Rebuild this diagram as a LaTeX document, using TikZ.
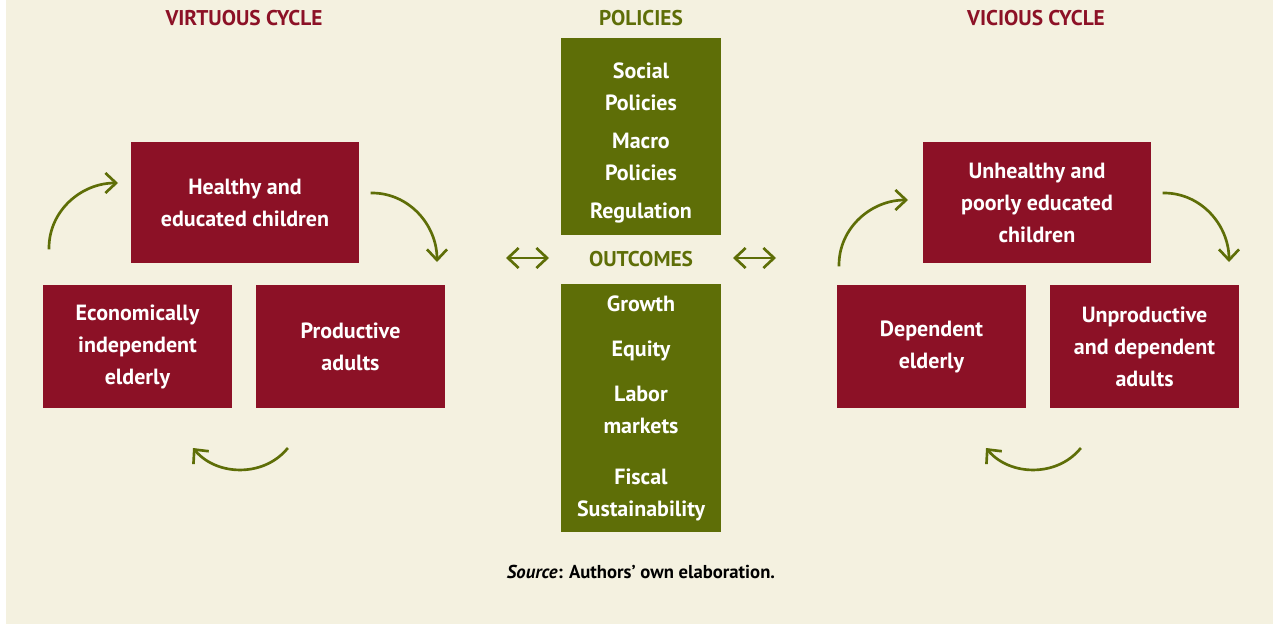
\documentclass[tikz,border=0pt]{standalone}
\usepackage{fontspec}
\setmainfont{PT Sans}
\usetikzlibrary{arrows.meta,positioning}
\definecolor{cyclered}{HTML}{8C1126}
\definecolor{policygreen}{HTML}{5E6E07}
\definecolor{paper}{HTML}{F4F1E0}

\begin{document}
\begin{tikzpicture}[x=0.75pt,y=0.75pt,line cap=rect]
  \tikzstyle{cyclebox}=[fill=cyclered,text=white,align=center,inner sep=0pt,font=\bfseries\fontsize{16.5}{24}\selectfont];
  \tikzstyle{policybox}=[fill=policygreen,inner sep=0pt,minimum width=120pt];
  \tikzstyle{policytext}=[text=white,align=center,inner sep=0pt,font=\bfseries\fontsize{16.5}{24}\selectfont];
  \tikzstyle{heading}=[font=\bfseries\fontsize{16}{18}\selectfont];
  \tikzstyle{cyclearrow}=[draw=policygreen,line width=2pt,-{Straight Barb[length=8pt,width=15pt]}];
  \tikzstyle{linkarrow}=[draw=policygreen,line width=2pt,{Straight Barb[length=8pt,width=15pt]}-{Straight Barb[length=8pt,width=15pt]}];

  % paper
  \fill[white] (0,0) rectangle (1273,-624);
  \fill[paper] (6,0) rectangle (1273,-624);
  \useasboundingbox (0,0) rectangle (1273,-624);

  % headings
  \node[heading,text=cyclered] (virtuoustitle) at (244,-18) {VIRTUOUS CYCLE};
  \node[heading,text=policygreen] (policytitle) at (641,-18) {POLICIES};
  \node[heading,text=cyclered] (vicioustitle) at (1036,-18) {VICIOUS CYCLE};
  \node[heading,text=policygreen] (outcometitle) at (641,-259) {OUTCOMES};

  % virtuous cycle
  \node[cyclebox,minimum width=171pt,minimum height=90.75pt] (healthy) at (245,-202.5) {Healthy and\\educated children};
  \node[cyclebox,minimum width=141.75pt,minimum height=92.25pt] (indep) at (137.5,-346.5) {Economically\\independent\\elderly};
  \node[cyclebox,minimum width=141.75pt,minimum height=92.25pt] (prod) at (350.5,-346.5) {Productive\\adults};
  \coordinate (va) at (49,-248);
  \coordinate (vb) at (118,-183);
  \coordinate (vc) at (372,-193);
  \coordinate (vd) at (437,-262);
  \coordinate (ve) at (287,-449);
  \coordinate (vf) at (193,-448);
  \draw[cyclearrow] (va) to[out=90,in=180] (vb);
  \draw[cyclearrow] (vc) to[out=0,in=90] (vd);
  \draw[cyclearrow] (ve) to[out=-130,in=-50] (vf);

  % policies and outcomes
  \node[policybox,minimum height=147.75pt] (policies) at (641,-136.5) {};
  \node[policytext] (policylist) at ([yshift=-4.5pt]policies.center) {Social\\Policies\\[4.5pt]Macro\\Policies\\[4.5pt]Regulation};
  \node[policybox,minimum height=186pt] (outcomes) at (641,-408) {};
  \node[policytext] (outcomelist) at (outcomes.center) {Growth\\[9.75pt]Equity\\[9.75pt]Labor\\markets\\[14.25pt]Fiscal\\Sustainability};
  \coordinate (la) at (506,-258);
  \coordinate (lb) at (549,-258);
  \coordinate (ra) at (733,-258);
  \coordinate (rb) at (776,-258);
  \draw[linkarrow] (la) -- (lb);
  \draw[linkarrow] (ra) -- (rb);

  % vicious cycle
  \node[cyclebox,minimum width=171pt,minimum height=90.75pt] (unhealthy) at (1037,-202.5) {Unhealthy and\\poorly educated\\children};
  \node[cyclebox,minimum width=141.75pt,minimum height=92.25pt] (depend) at (931.5,-346.5) {Dependent\\elderly};
  \node[cyclebox,minimum width=141.75pt,minimum height=92.25pt] (unprod) at (1144.5,-346.5) {Unproductive\\and dependent\\adults};
  \coordinate (ua) at (839,-265);
  \coordinate (ub) at (908,-200);
  \coordinate (uc) at (1164,-193);
  \coordinate (ud) at (1229,-262);
  \coordinate (ue) at (1080,-449);
  \coordinate (uf) at (986,-448);
  \draw[cyclearrow] (ua) to[out=90,in=180] (ub);
  \draw[cyclearrow] (uc) to[out=0,in=90] (ud);
  \draw[cyclearrow] (ue) to[out=-130,in=-50] (uf);

  % source
  \node[font=\bfseries\fontsize{14}{16}\selectfont] (source) at (641,-572) {\textit{Source}: Authors’ own elaboration.};
\end{tikzpicture}
\end{document}
